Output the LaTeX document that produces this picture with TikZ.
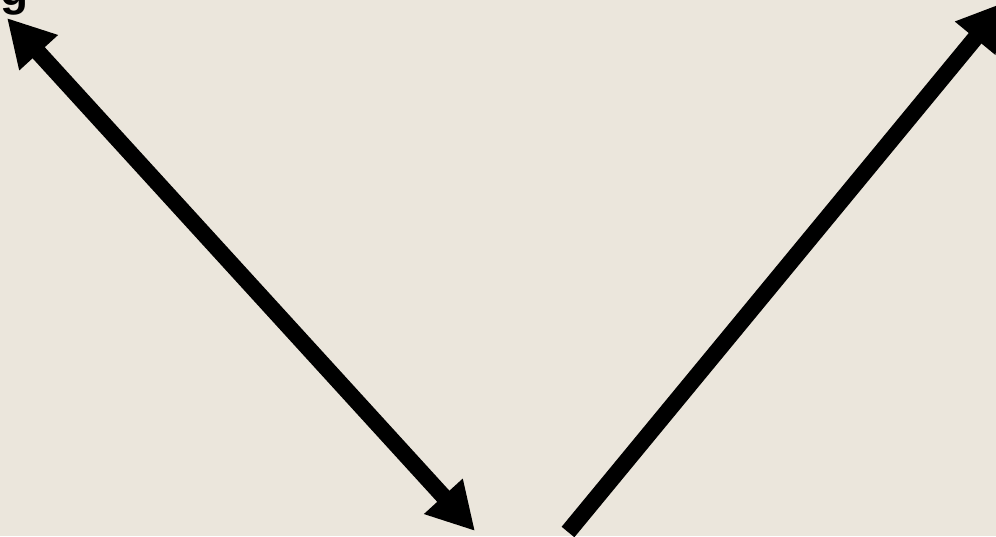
\documentclass[tikz,border=0pt]{standalone}
\usepackage{fontspec}
\setmainfont{Liberation Sans}
\usetikzlibrary{arrows.meta}
\definecolor{bg}{HTML}{EBE6DC}
\tikzset{
  conn/.style={line width=16.5pt, draw=black},
  bigtip/.tip={Triangle[length=47pt,width=49pt]},
  lbl/.style={font=\fontsize{46}{46}\selectfont\bfseries, inner sep=0pt, text=black}
}
\begin{document}
\begin{tikzpicture}[x=1pt,y=-1pt]
\fill[bg] (0,0) rectangle (996,536);
\useasboundingbox (0,0) rectangle (996,536);
\clip (0,0) rectangle (996,536);
\node[lbl, anchor=south east] (g) at (29,15) {g};
\coordinate (a1) at (7,18);
\coordinate (a2) at (475,531);
\coordinate (b1) at (568,532);
\coordinate (b2) at (1005,2);
\draw[conn, bigtip-bigtip] (a1) -- (a2);
\draw[conn, -bigtip] (b1) -- (b2);
\end{tikzpicture}
\end{document}
